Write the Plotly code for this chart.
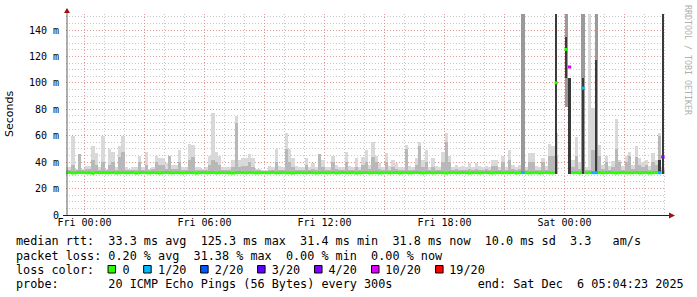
import datetime as dt
import plotly.graph_objects as go

# ---------------- data ----------------
t_start = dt.datetime(2025, 12, 4, 23, 0, 0)      # first 10-minute bin
step_min = 10
x_range = ["2025-12-04 23:04:23", "2025-12-06 05:04:23"]

smoke_floor = 31.0

# median rtt (ms) per 10-minute bin; None = no data
median_ms = [
    32.0, 32.2, 31.8, 32.0, 32.3, 32.1, 31.9, 32.0, 31.6, 32.2, 32.0, 32.1, 31.9, 32.0, 32.2, 31.8, 32.0, 32.1, 31.9, 32.0,
    32.1, 31.7, 32.0, 32.2, 32.0, 31.9, 32.1, 32.0, 31.8, 32.0, 32.2, 32.0, 31.9, 32.1, 32.0, 31.8, 32.0, 32.1, 32.0, 31.7,
    32.0, 32.1, 31.9, 32.0, 32.2, 31.8, 32.0, 32.1, 32.0, 31.9, 31.7, 32.0, 32.2, 32.0, 31.9, 32.1, 32.0, 31.8, 32.0, 32.1,
    31.9, 32.0, 32.2, 31.8, 32.0, 32.1, 31.9, 32.0, 31.7, 32.0, 32.1, 32.0, 31.9, 32.2, 32.0, 31.8, 32.0, 32.1, 31.9, 32.0,
    32.1, 31.8, 32.0, 32.2, 31.9, 32.0, 32.1, 31.7, 32.0, 32.0, 32.2, 31.9, 32.0, 32.1, 31.8, 32.0, 32.1, 31.9, 32.0, 32.2,
    31.8, 32.0, 32.1, 31.9, 32.0, 32.2, 32.0, 31.8, 32.0, 32.1, 31.9, 32.0, 32.1, 32.0, 31.7, 32.0, 32.2, 31.9, 32.0, 32.1,
    32.0, 31.8, 32.0, 32.1, 31.9, 32.0, 32.2, 32.0, 31.8, 32.0, 32.1, 31.9, 32.0, 32.0, 32.2, 31.8, 32.0, 32.1, 32.0, 31.9,
    32.0, 32.1, 31.8, 32.0, 32.2, 32.0, 31.9, 100.0, None, None, 125.3, 112.0, 32.0, 32.1, 31.9, 96.0, 32.0, 32.1, 32.0, 32.0,
    32.1, 31.9, 32.0, 32.2, 32.0, 31.8, 32.0, 32.1, 31.9, 32.0, 32.0, 32.2, 31.9, 32.0, 32.1, 31.8, 32.0, 32.1, 32.0, 44.0,
]

# lost pings (of 20) per bin
loss_count = [
    0, 0, 0, 0, 0, 0, 0, 0, 0, 0, 0, 0, 0, 0, 0, 0, 0, 0, 0, 0,
    0, 0, 0, 0, 0, 0, 0, 0, 0, 0, 0, 0, 0, 0, 0, 0, 0, 0, 0, 0,
    0, 0, 0, 0, 0, 0, 0, 0, 0, 0, 0, 0, 0, 0, 0, 0, 0, 0, 0, 0,
    0, 0, 0, 0, 0, 0, 0, 0, 0, 0, 0, 0, 0, 0, 0, 0, 0, 0, 0, 0,
    0, 0, 0, 0, 0, 0, 0, 0, 0, 0, 0, 0, 0, 0, 0, 0, 0, 0, 0, 0,
    0, 0, 0, 0, 0, 0, 0, 0, 0, 0, 0, 0, 0, 0, 0, 0, 0, 0, 0, 0,
    0, 0, 0, 0, 0, 0, 0, 0, 0, 0, 0, 0, 0, 0, 0, 0, 0, 1, 0, 0,
    0, 0, 0, 0, 0, 0, 0, 0, 0, 0, 0, 10, 0, 0, 0, 1, 0, 0, 1, 1,
    0, 0, 0, 0, 0, 0, 0, 0, 0, 0, 0, 0, 0, 0, 0, 0, 0, 0, 1, 4,
]

# outer smoke top (max rtt, ms)
smoke_max = [
    36, 36, 60, 35, 46, 35, 37, 37, 52, 47, 36, 60, 35, 50, 48, 36, 52, 60, 36, 35,
    36, 36, 45, 36, 48, 35, 36, 45, 43, 43, 39, 45, 38, 38, 49, 36, 36, 54, 53, 36,
    36, 35, 36, 45, 77, 48, 45, 36, 36, 36, 42, 75, 42, 43, 43, 46, 43, 35, 35, 34,
    34, 37, 36, 50, 37, 36, 62, 50, 43, 37, 36, 36, 43, 36, 39, 36, 46, 42, 36, 36,
    45, 38, 36, 36, 48, 37, 36, 43, 36, 44, 49, 38, 55, 45, 39, 36, 47, 37, 42, 39,
    36, 36, 53, 37, 36, 43, 55, 42, 49, 36, 43, 37, 36, 48, 62, 45, 36, 38, 36, 37,
    36, 39, 36, 39, 37, 36, 37, 36, 42, 42, 36, 45, 36, 49, 38, 36, 38, 152, 36, 47,
    47, 37, 36, 43, 37, 54, 52, 62, None, None, None, 40, 42, 59, 40, 36, 36, 152, 81, 36,
    53, 38, 45, 37, 41, 73, 42, 37, 45, 48, 38, 52, 43, 40, 42, 37, 47, 42, 62, 36,
]

# inner (denser) smoke top, ms
smoke_mid = [
    34, 34, 38, 34, 46, 34, 35, 35, 42, 38, 34, 40, 34, 38, 40, 34, 44, 48, 34, 34,
    34, 34, 40, 34, 38, 34, 35, 40, 38, 38, 35, 45, 35, 35, 40, 34, 34, 42, 44, 34,
    34, 34, 34, 38, 42, 40, 38, 34, 34, 34, 36, 70, 36, 37, 37, 40, 36, 34, 34, 33,
    33, 34, 34, 40, 34, 34, 50, 40, 36, 34, 34, 34, 38, 34, 35, 34, 46, 36, 34, 34,
    40, 35, 34, 34, 40, 34, 34, 36, 34, 38, 40, 35, 44, 40, 35, 34, 40, 34, 36, 35,
    34, 34, 50, 34, 34, 38, 52, 36, 40, 34, 36, 34, 34, 40, 55, 40, 34, 35, 34, 34,
    34, 35, 34, 35, 34, 34, 35, 34, 37, 37, 34, 40, 34, 42, 35, 34, 35, 34, 34, 40,
    40, 34, 34, 40, 34, 45, 45, 45, None, None, None, 36, 36, 45, 35, 34, 34, 34, 49, 34,
    45, 35, 40, 34, 36, 50, 40, 34, 40, 45, 35, 44, 38, 36, 38, 34, 40, 38, 60, 34,
]

# heavy smoke columns (bin index, low, high)
column_bin = [137, 150, 155, 159]
column_lo = [31, 82, 31, 31]
column_hi = [152, 152, 152, 152]

dark_bin = [147, 150, 151, 155, 159, 178, 179]
dark_lo = [31, 104, 31, 31, 31, 31, 31]
dark_hi = [152, 135, 104, 104, 117, 42, 152]

y_tick_vals = [0, 20, 40, 60, 80, 100, 120, 140]
y_tick_text = ["0", "20 m", "40 m", "60 m", "80 m", "100 m", "120 m", "140 m"]
x_tick_vals = ["2025-12-05 00:00", "2025-12-05 03:00", "2025-12-05 06:00", "2025-12-05 09:00",
               "2025-12-05 12:00", "2025-12-05 15:00", "2025-12-05 18:00", "2025-12-05 21:00",
               "2025-12-06 00:00", "2025-12-06 03:00"]
x_tick_text = ["Fri 00:00", "", "Fri 06:00", "", "Fri 12:00", "", "Fri 18:00", "", "Sat 00:00", ""]

loss_levels = [0, 1, 2, 3, 4, 10, 19]
loss_labels = ["0", "1/20", "2/20", "3/20", "4/20", "10/20", "19/20"]

legend_rtt = "median rtt:  33.3 ms avg  125.3 ms max  31.4 ms min  31.8 ms now  10.0 ms sd  3.3   am/s"
legend_loss = "packet loss: 0.20 % avg  31.38 % max  0.00 % min  0.00 % now"
legend_probe = "probe:       20 ICMP Echo Pings (56 Bytes) every 300s            end: Sat Dec  6 05:04:23 2025"

# ---------------- styles ----------------
LOSS_COLORS = {0: "#26ff00", 1: "#00b8ff", 2: "#0059ff", 3: "#5e00ff",
               4: "#7e00ff", 10: "#dd00ff", 19: "#ff0000"}
W, H = 697, 297
L, R, T, B = 66, 31, 14, 82
PW, PH = W - L - R, H - T - B
MONO = "DejaVu Sans Mono"


def px(x):
    return (x - L) / PW


def py(y):
    return (H - B - y) / PH


step = dt.timedelta(minutes=step_min)
n = len(median_ms)
starts = [t_start + i * step for i in range(n)]
centers = [s + step / 2 for s in starts]
width_ms = step_min * 60 * 1000

fig = go.Figure()


def add_bars(xs, lo, hi, color, w=width_ms):
    xx, base, hh = [], [], []
    for x, a, b in zip(xs, lo, hi):
        if a is None or b is None:
            continue
        xx.append(x)
        base.append(a)
        hh.append(b - a)
    fig.add_trace(go.Bar(x=xx, y=hh, base=base, width=w,
                         marker=dict(color=color, line=dict(width=0)),
                         hoverinfo="skip", showlegend=False))


add_bars(centers, [smoke_floor] * n, smoke_max, "#d9d9d9")
add_bars(centers, [smoke_floor] * n, smoke_mid, "#b8b8b8")
add_bars([centers[i] for i in column_bin], column_lo, column_hi, "#9a9a9a")
add_bars([centers[i] for i in dark_bin], dark_lo, dark_hi, "#3a3a3a", w=width_ms * 0.7)

# median line, coloured by packet loss
for lv in loss_levels:
    xs, ys = [], []
    for i in range(n):
        if median_ms[i] is None or loss_count[i] != lv:
            continue
        xs += [starts[i], starts[i] + step, None]
        ys += [median_ms[i], median_ms[i], None]
    if xs:
        fig.add_trace(go.Scatter(x=xs, y=ys, mode="lines",
                                 line=dict(color=LOSS_COLORS[lv], width=3),
                                 hoverinfo="skip", showlegend=False))

grid_minor = "rgba(175,175,175,0.7)"
grid_major = "rgba(235,120,120,0.6)"
DOT = "1px,2px"

fig.update_xaxes(type="date", range=x_range, tickmode="array",
                 tickvals=x_tick_vals, ticktext=x_tick_text,
                 showgrid=True, gridcolor=grid_major, griddash=DOT, gridwidth=1,
                 ticks="", showline=False, zeroline=False,
                 tickfont=dict(family=MONO, size=10, color="#000"),
                 minor=dict(tickmode="linear", tick0="2025-12-05 00:00", dtick=3600000,
                            showgrid=True, gridcolor=grid_minor, griddash=DOT, gridwidth=1))
fig.update_yaxes(range=[0, PH / 1.3214], tickmode="array",
                 tickvals=y_tick_vals, ticktext=y_tick_text,
                 showgrid=True, gridcolor=grid_major, griddash=DOT, gridwidth=1,
                 ticks="", showline=False, zeroline=False, ticklabelstandoff=6,
                 tickfont=dict(family=MONO, size=10, color="#000"),
                 minor=dict(tickmode="linear", tick0=0, dtick=5,
                            showgrid=True, gridcolor=grid_minor, griddash=DOT, gridwidth=1))

shapes = []
# axis lines
shapes.append(dict(type="line", xref="paper", yref="paper", x0=px(67), x1=px(67), y0=py(215), y1=py(11),
                   line=dict(color="#606060", width=1)))
shapes.append(dict(type="line", xref="paper", yref="paper", x0=px(63), x1=px(670), y0=py(215.5), y1=py(215.5),
                   line=dict(color="#202020", width=1)))
# arrow heads
shapes.append(dict(type="path", xref="paper", yref="paper",
                   path=f"M {px(67)} {py(8)} L {px(64)} {py(13)} L {px(70)} {py(13)} Z",
                   fillcolor="#a01010", line=dict(width=0)))
shapes.append(dict(type="path", xref="paper", yref="paper",
                   path=f"M {px(675)} {py(215.5)} L {px(669)} {py(212.5)} L {px(669)} {py(218.5)} Z",
                   fillcolor="#a01010", line=dict(width=0)))

CW = 7.12
X0 = 16
nb = "\u00a0"

annotations = []


def text_line(txt, y):
    annotations.append(dict(text=txt.replace(" ", nb), xref="paper", yref="paper",
                            x=px(X0 - 2), y=py(y), xanchor="left", yanchor="middle",
                            showarrow=False, font=dict(family=MONO, size=11.8, color="#000")))


text_line(legend_rtt, 241)
text_line(legend_loss, 255.5)
text_line(legend_probe, 284)

# loss colour legend line
loss_line = "loss color:  "
square_cols = []
for lab in loss_labels:
    square_cols.append(len(loss_line))
    loss_line += "  " + lab + "  "
loss_line = loss_line.rstrip()
text_line(loss_line, 269.5)
for lv, col in zip(loss_levels, square_cols):
    x0 = X0 + col * CW - 0.5
    shapes.append(dict(type="rect", xref="paper", yref="paper",
                       x0=px(x0), x1=px(x0 + 7.5), y0=py(273), y1=py(265.5),
                       fillcolor=LOSS_COLORS[lv], line=dict(color="#000", width=1)))

# y axis title
annotations.append(dict(text="Seconds", xref="paper", yref="paper", x=px(10), y=py(114),
                        xanchor="center", yanchor="middle", textangle=-90, showarrow=False,
                        font=dict(family="DejaVu Sans", size=11, color="#000")))
# rrdtool watermark
annotations.append(dict(text="RRDTOOL / TOBI OETIKER", xref="paper", yref="paper", x=px(688), y=py(60),
                        xanchor="center", yanchor="middle", textangle=90, showarrow=False,
                        font=dict(family=MONO, size=8.3, color="#b0b0b0")))

fig.update_layout(width=W, height=H, margin=dict(l=L, r=R, t=T, b=B, pad=0),
                  paper_bgcolor="#ffffff", plot_bgcolor="#ffffff",
                  barmode="overlay", bargap=0, showlegend=False,
                  shapes=shapes, annotations=annotations)

fig.write_html("out.html")
